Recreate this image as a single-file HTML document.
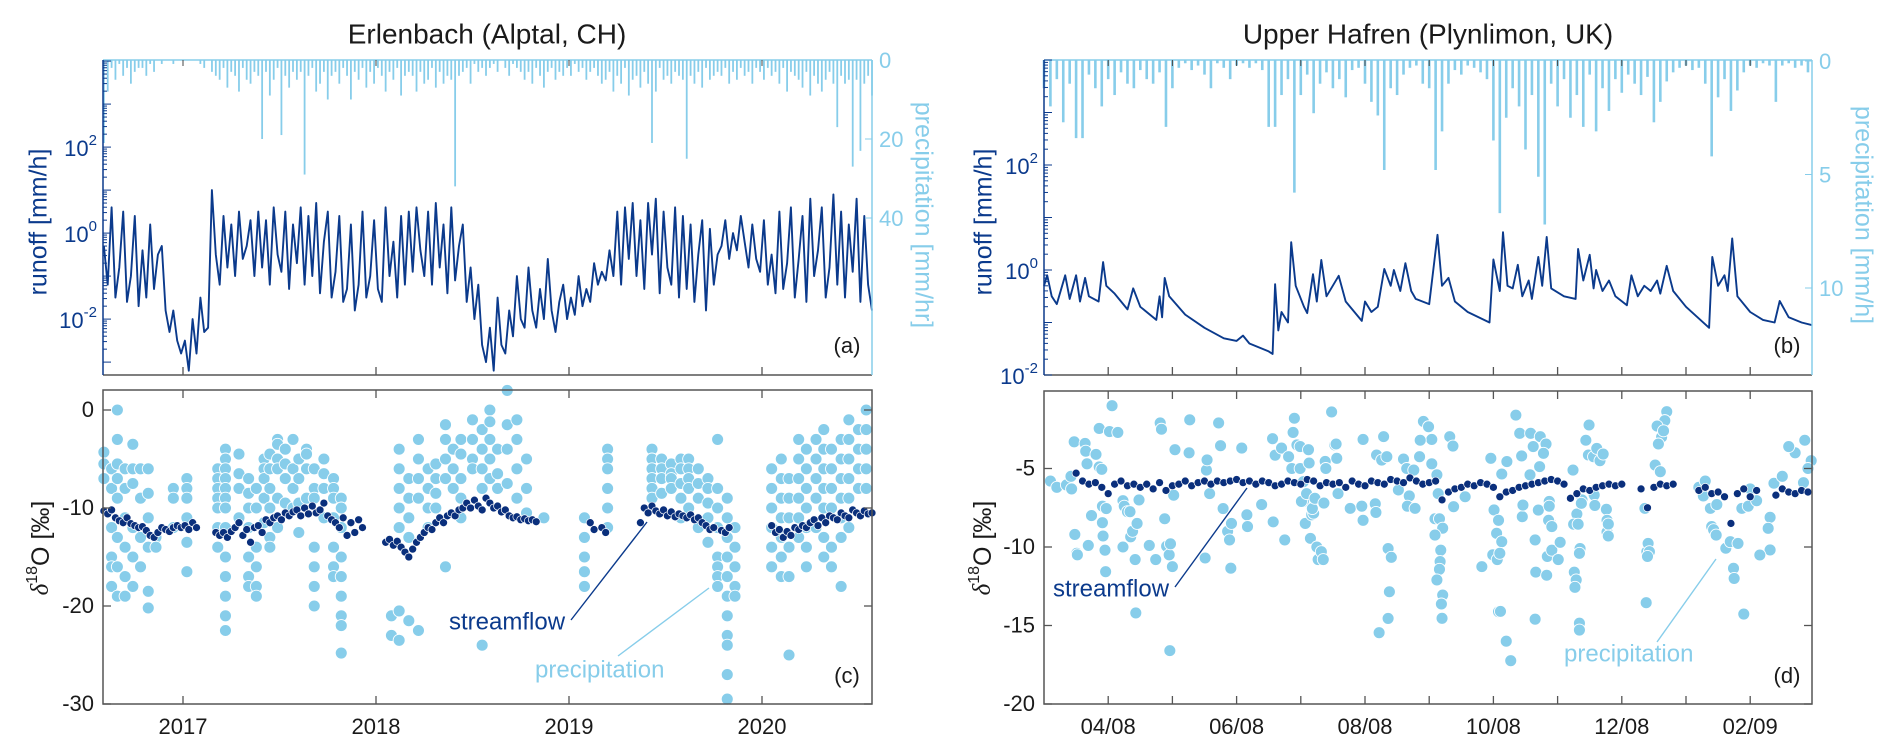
<!DOCTYPE html>
<html><head><meta charset="utf-8"><title>Erlenbach and Upper Hafren runoff and isotopes</title>
<style>html,body{margin:0;padding:0;background:#fff}svg{display:block;font-family:"Liberation Sans",Arial,sans-serif}</style>
</head><body>
<svg id="fig" width="1892" height="754" viewBox="0 0 1892 754" xmlns="http://www.w3.org/2000/svg"></svg>
<script>
// ---------------- DATA: left site (Erlenbach) ----------------
const runoffAStart = 2016.59, runoffAStep = 0.02; // years
const runoffA = [ // log10 runoff
-0.3,-1.2,0.6,-1.5,-0.8,0.5,-1.6,-1.0,0.4,-1.7,
-0.4,-1.5,0.2,-1.3,-0.5,-0.3,-1.8,-2.3,-1.8,-2.5,
-2.8,-2.5,-3.2,-2.0,-2.8,-1.5,-2.3,-2.2,1.0,-0.5,
-1.2,0.4,-0.8,0.2,-1.0,0.5,-0.6,-0.3,0.3,-1.0,
0.5,-0.8,0.3,-1.2,0.6,-0.5,-0.9,0.5,-1.3,0.2,
-0.7,0.6,-1.2,0.4,-1.0,0.7,-1.4,-0.2,0.5,-1.5,
-0.9,0.4,-1.6,-1.3,0.2,-1.8,-1.2,0.5,-1.5,-1.0,
0.3,-1.3,-1.6,0.6,-1.0,-0.2,-1.5,0.4,-1.2,0.5,
-0.9,0.6,-0.4,-1.0,0.5,-1.2,0.7,-0.8,0.2,-1.4,
0.6,-1.1,-0.3,0.2,-1.6,-0.8,-2.0,-1.2,-2.6,-3.0,
-2.2,-3.2,-1.5,-2.6,-2.8,-1.8,-2.4,-1.0,-2.0,-2.2,
-0.8,-1.8,-2.2,-1.3,-2.0,-0.6,-1.8,-2.3,-1.6,-1.2,
-2.0,-1.5,-1.9,-1.0,-1.7,-1.3,-1.6,-0.7,-1.2,-0.9,
-1.1,-0.4,-1.0,0.5,-1.2,0.6,-0.6,0.7,-1.0,0.3,
-1.3,0.7,-0.5,0.8,-1.4,0.5,-0.8,-1.2,0.6,-1.5,
0.4,-1.3,0.2,-1.6,-0.5,0.3,-1.8,0.1,-1.2,-0.5,
-0.3,0.3,-0.6,0.0,-0.4,0.4,-0.2,-0.8,0.2,-0.6,
-0.9,0.3,-1.2,-0.5,-1.4,0.5,-1.3,-0.7,0.6,-1.5,
-0.6,0.4,-1.6,0.8,-1.0,-0.4,0.6,-1.5,-0.8,0.9,
-1.2,0.5,-1.5,0.2,-0.9,0.8,-1.6,0.4,-1.2,-1.8];
const precipA = [ // mm/hr, same time grid
21,8,2,5,1,4,2,6,3,2,
2,4,1,3,0,1,0,0,1,0,
0,0,0,0,0,1,2,0,3,4,
5,2,7,3,4,8,2,5,6,3,
4,20,3,9,5,2,19,4,7,3,
5,3,29,4,2,8,6,3,10,4,
3,6,2,4,10,3,5,2,7,3,
6,2,4,8,3,5,2,9,4,3,
4,8,3,6,5,2,7,3,6,4,
5,32,4,3,2,6,1,3,2,4,
2,1,3,0,2,4,1,2,3,5,
3,6,2,4,7,3,2,5,3,4,
2,4,1,3,2,5,3,2,4,6,
5,3,8,4,6,2,9,5,4,7,
3,6,21,8,2,5,4,6,3,4,
5,25,4,6,3,7,2,5,4,3,
4,2,6,3,5,2,4,3,6,2,
3,5,2,4,3,6,2,8,3,4,
5,7,3,9,4,6,8,5,3,6,
17,4,6,5,27,5,23,6,4,9];
const streamC = [ // delta18O streamflow, same time grid
-10.3,-10.6,-10.2,-11.0,-11.3,-11.5,-11.0,-11.6,-11.8,-12.0,
-11.9,-12.3,-12.8,-13.0,-12.5,-12.0,-12.2,-12.4,-12.0,-11.8,
-12.0,-11.8,-12.2,-11.5,-12.0,null,null,null,null,-12.5,
-12.8,-12.5,-13.0,-12.4,-12.0,-11.5,-12.8,-12.2,-13.5,-12.0,
-11.8,-12.5,-11.2,-11.5,-11.0,-10.8,-11.2,-10.5,-10.8,-10.4,
-10.2,-10.8,-10.0,-10.6,-9.8,-10.5,-10.2,-9.5,-10.8,-11.2,
-11.5,-12.0,-11.0,-12.8,-11.5,-12.5,-11.2,-12.0,null,null,
null,null,null,-13.5,-13.2,-13.8,-13.4,-14.0,-14.5,-15.0,
-14.2,-13.5,-13.0,-12.5,-12.0,-12.2,-11.5,-11.0,-11.5,-10.8,
-10.5,-10.8,-10.2,-10.0,-9.5,-10.0,-9.2,-9.8,-10.2,-9.0,
-9.5,-10.0,-9.8,-10.4,-10.2,-10.8,-11.0,-10.9,-11.2,-11.1,
-11.3,-11.2,-11.4,null,null,null,null,null,null,null,
null,null,null,null,null,null,-11.5,-12.2,null,-12.0,
-12.5,null,null,null,null,null,null,null,null,-11.5,
-10.0,-10.5,-9.8,-10.3,-10.6,-10.2,-10.8,-10.4,-10.9,-10.6,
-10.8,-11.0,-10.7,-11.2,-11.0,-11.5,-11.8,-12.2,-12.0,null,
-12.3,-12.5,-12.0,null,null,null,null,null,null,null,
null,null,null,-11.8,-12.5,-12.2,-13.0,-12.4,-12.8,-12.0,
-12.2,-11.8,-12.0,-11.5,-11.2,-11.8,-11.0,-11.5,-10.8,-11.0,
-11.2,-10.5,-10.8,-11.0,-10.2,-10.5,-10.8,-10.3,-10.6,-10.5];
const precipCDates = [2016.59,2016.63,2016.66,2016.70,2016.74,2016.78,2016.82,2016.86,2016.95,2017.02,2017.18,2017.22,2017.29,2017.34,2017.38,2017.42,2017.45,2017.49,2017.53,2017.57,2017.60,2017.64,2017.68,2017.73,2017.78,2017.82,2018.08,2018.12,2018.17,2018.22,2018.27,2018.31,2018.36,2018.40,2018.44,2018.50,2018.55,2018.59,2018.63,2018.68,2018.73,2018.78,2018.87,2019.08,2019.20,2019.43,2019.48,2019.53,2019.58,2019.62,2019.67,2019.72,2019.77,2019.82,2019.86,2020.05,2020.10,2020.14,2020.19,2020.23,2020.28,2020.32,2020.36,2020.41,2020.45,2020.50,2020.54];
const precipCVals = [
[-4.3,-5.5,-7],[-6,-8,-12,-15,-16,-18],[0,-3,-5.5,-7,-9,-13,-16,-19],[-6,-8,-11,-14,-17,-19],[-3.5,-6,-7.5,-12,-15,-18],[-6,-9,-13,-16],[-6,-8.5,-11,-14,-18.5,-20.2],[-13,-14],[-8,-9,-12],[-7,-8,-9,-11,-13.5,-16.5],
[-6,-7,-8,-9,-10,-12,-14],[-4,-5,-6,-7,-8,-9,-10,-12,-15,-17,-19,-21,-22.5],[-4.5,-6.5,-8,-11],[-7,-8.5,-10,-12,-15,-17,-18],[-8,-10,-14,-16,-18,-19],[-5,-6,-7,-9,-11.5],[-4.5,-6,-8,-10,-13,-14],[-3,-3.5,-5,-6,-9,-12],[-4,-5.5,-7,-9.5],[-3,-6,-8,-10],
[-5,-7,-9.5,-12.5],[-4,-4.5,-6,-9],[-6,-8,-9,-14,-16,-18,-20],[-5,-6.5,-8,-11],[-7,-8,-9,-11,-14,-16,-17],[-9,-10,-12,-15,-17,-19,-21,-22,-24.8],[-21,-23],[-4,-6,-8,-10,-12,-20.5,-23.5],[-7,-9,-11,-13,-21.5],[-3,-5,-7,-9,-22.5],
[-6,-8,-10,-12],[-5.5,-7,-8.5,-10],[-1.5,-3,-5,-7,-16],[-4,-6,-8],[-3,-4.5,-7,-9,-11],[-1,-3,-5,-6],[-2,-4,-6,-8,-24],[0,-1.2,-3,-5,-7],[-4,-6.5,-8],[2,-1.5,-4,-7.5],
[-1,-3,-6,-9],[-5,-8,-10.5],[-11],[-11,-13,-15,-16.5,-18],[-4,-5,-6,-8,-10,-12],[-4,-5,-6,-7,-8,-9],[-5,-6,-7,-8.5],[-5.5,-6.5,-7,-8],[-5,-6,-7.5,-9,-11],[-5,-6,-7,-8,-10],
[-6,-7.5,-9,-12],[-7,-8,-9.5,-11,-13.5],[-3,-8,-10,-12,-15,-16,-17,-18],[-9,-11,-13,-15,-17,-19,-21,-23,-24,-27,-29.5],[-12,-14,-16,-18,-19],[-6,-8,-10,-12,-14,-16],[-5,-7,-9,-11,-13,-15,-17],[-7,-9,-11,-14,-17,-25],[-3,-5,-7,-9,-11,-13],[-4,-6,-8,-10,-12,-14,-16],
[-3,-5,-7,-9,-12],[-2,-4,-6,-8,-10,-13,-15],[-4,-6,-8,-10,-14,-16],[-3,-5,-7,-9,-11,-13,-18],[-1,-3,-5,-7,-9,-12],[-2,-4,-6,-8],[0,-2,-4,-6,-8]];
const yearTicks = [2017, 2018, 2019, 2020];

// ---------------- DATA: right site (Upper Hafren), months since 1 Mar 2008 ----------------
const runoffBT = [0,0.05,0.12,0.2,0.33,0.4,0.5,0.56,0.64,0.7,0.85,0.92,0.97,1.1,1.3,1.39,1.5,1.75,1.8,1.84,1.88,1.95,2.2,2.5,2.8,3.0,3.1,3.2,3.5,3.56,3.6,3.65,3.7,3.8,3.85,3.92,4.05,4.1,4.19,4.25,4.32,4.4,4.59,4.7,4.95,5.0,5.1,5.2,5.3,5.4,5.45,5.55,5.63,5.72,5.79,6.0,6.13,6.2,6.3,6.4,6.6,6.94,7.0,7.05,7.1,7.15,7.22,7.3,7.38,7.45,7.55,7.6,7.7,7.76,7.83,7.9,8.1,8.28,8.32,8.4,8.5,8.56,8.6,8.7,8.8,8.9,9.08,9.15,9.25,9.35,9.45,9.55,9.6,9.7,9.8,10.0,10.36,10.41,10.5,10.6,10.65,10.72,10.8,11.0,11.2,11.38,11.46,11.6,11.8,11.96];
const runoffBV = [-0.3,-0.1,-0.5,-0.65,-0.1,-0.55,-0.1,-0.6,-0.15,-0.5,-0.6,0.15,-0.3,-0.45,-0.75,-0.35,-0.7,-0.95,-0.5,-0.9,-0.15,-0.5,-0.85,-1.1,-1.3,-1.35,-1.25,-1.4,-1.55,-1.6,-0.27,-1.15,-0.8,-1.0,0.53,-0.3,-0.7,-0.82,-0.08,-0.6,0.19,-0.5,-0.11,-0.6,-0.97,-0.6,-0.8,-0.7,0.02,-0.3,0.0,-0.4,0.13,-0.4,-0.55,-0.65,0.67,-0.3,-0.15,-0.6,-0.8,-1.0,0.2,-0.1,-0.4,0.72,-0.3,-0.35,0.1,-0.5,-0.2,-0.55,0.25,-0.3,0.63,-0.35,-0.5,-0.55,0.4,-0.2,0.29,-0.35,0.0,-0.4,-0.2,-0.5,-0.67,-0.1,-0.5,-0.3,-0.4,-0.2,-0.45,0.08,-0.4,-0.7,-1.1,0.25,-0.3,-0.1,-0.4,0.6,-0.5,-0.8,-0.95,-1.0,-0.59,-0.9,-1.0,-1.05];
const precipBStep = 0.1;
const precipB = [
1.2,2.0,0.8,2.7,1.0,3.4,3.4,0.6,1.2,2.0,
0.8,1.5,0.5,1.0,1.2,0.4,0.8,1.0,0.5,2.9,
1.2,0.3,0.1,0.4,0.2,0.6,1.2,0.1,0.3,0.8,
0.2,0.1,0.3,0.1,0.4,2.9,2.9,1.5,0.8,5.8,
1.5,0.6,2.3,1.0,0.5,1.2,0.8,1.6,0.4,0.3,
1.0,1.8,2.4,4.8,1.2,1.5,0.6,0.3,0.2,1.0,
1.2,4.8,3.1,1.0,0.4,0.6,0.2,0.3,0.5,0.8,
3.5,6.7,2.5,1.2,2.0,3.9,1.5,5.1,7.2,1.0,
2.0,0.8,2.5,1.5,2.9,0.6,3.1,1.2,2.2,0.8,
1.4,0.6,1.0,1.5,0.7,2.7,1.8,0.9,0.5,0.3,
0.2,0.4,0.3,1.0,4.2,1.6,0.8,2.2,1.3,0.5,
0.2,0.3,0.1,0.2,1.8,0.2,0.1,0.3,0.2,0.5];
const streamDStart = 0.5, streamDStep = 0.1;
const streamD = [
-5.3,-5.8,-6.0,-5.9,-6.2,-6.6,-6.0,-5.8,-6.1,-6.0,
-6.2,-6.0,-6.3,-5.9,-6.4,-6.1,-6.0,-5.8,-6.1,-5.9,
-5.8,-6.0,-5.8,-5.9,-5.8,-5.7,-5.9,-5.8,-6.0,-5.8,
-5.9,-6.1,-6.0,-5.8,-5.9,-6.0,-5.7,-5.8,-6.1,-5.9,
-6.0,-5.9,-6.2,-5.8,-6.0,-6.1,-5.8,-5.9,-6.0,-5.7,
-5.8,-5.9,-5.6,-5.8,-6.0,-5.9,-5.8,-7.0,-6.5,-6.3,
-6.2,-6.0,-6.1,-5.9,-6.0,-6.2,-6.8,-6.5,-6.4,-6.2,
-6.1,-6.0,-5.9,-5.8,-5.7,-5.8,-6.0,-6.9,-6.6,-6.3,
-6.4,-6.2,-6.1,-6.0,-6.1,-6.0,null,null,-6.3,-7.5,
-6.2,-6.0,-6.1,-6.0,null,null,null,-6.4,-6.2,-6.6,
-6.5,-6.8,-8.5,-6.6,-6.3,-6.8,-6.4,null,null,-6.7,
-6.3,-6.5,-6.6,-6.4,-6.5];
const precipD = [[0.1,-5.8],[0.2,-6.2],[0.35,-6.05],[0.42,-5.5],[0.43,-6.3],[0.47,-3.3],[0.48,-9.2],[0.51,-10.4],[0.52,-10.5],[0.64,-3.4],[0.65,-3.9],[0.67,-4.7],[0.69,-9.9],[0.74,-8.0],[0.81,-4.1],[0.86,-4.9],[0.9,-5.05],[0.91,-7.4],[0.91,-8.45],[0.92,-9.3],[0.95,-10.2],[0.96,-11.57],[0.97,-7.55],[0.86,-2.45],[1.02,-2.65],[1.06,-1.0],[1.15,-2.7],[1.23,-10.0],[1.23,-7.05],[1.25,-7.4],[1.3,-7.75],[1.34,-7.75],[1.35,-9.35],[1.38,-9.0],[1.42,-10.8],[1.43,-14.2],[1.45,-8.5],[1.48,-7.0],[1.64,-9.9],[1.74,-10.8],[1.81,-2.1],[1.83,-2.5],[1.88,-8.2],[1.91,-9.95],[1.95,-10.5],[1.96,-16.6],[1.97,-9.8],[2.0,-11.25],[2.02,-6.7],[2.04,-3.8],[2.26,-4.0],[2.27,-1.9],[2.53,-5.1],[2.54,-4.45],[2.51,-10.7],[2.58,-6.6],[2.72,-2.1],[2.75,-3.55],[2.79,-7.55],[2.86,-9.0],[2.89,-9.55],[2.91,-11.35],[2.92,-8.5],[3.08,-3.7],[3.16,-7.95],[3.17,-8.7],[3.39,-7.3],[3.56,-3.1],[3.57,-8.4],[3.6,-4.15],[3.7,-3.7],[3.75,-9.55],[3.81,-4.25],[3.86,-5.0],[3.88,-2.7],[3.9,-1.8],[3.94,-3.5],[3.99,-3.6],[3.99,-5.0],[4.04,-5.84],[4.04,-7.1],[4.01,-7.1],[4.07,-8.5],[4.09,-6.6],[4.12,-3.8],[4.13,-4.65],[4.15,-9.45],[4.17,-7.95],[4.2,-7.85],[4.25,-10.0],[4.18,-7.55],[4.22,-6.9],[4.27,-10.8],[4.32,-10.3],[4.35,-10.8],[4.36,-7.2],[4.38,-4.55],[4.39,-5.0],[4.48,-1.4],[4.53,-3.5],[4.56,-4.35],[4.55,-3.44],[4.58,-6.6],[4.77,-7.54],[4.95,-7.4],[4.97,-8.3],[4.97,-3.15],[5.16,-7.25],[5.17,-7.8],[5.29,-2.97],[5.18,-4.14],[5.26,-4.46],[5.34,-4.25],[5.36,-10.1],[5.41,-10.66],[5.38,-12.85],[5.36,-14.55],[5.22,-15.46],[5.52,-6.37],[5.6,-4.4],[5.65,-5.0],[5.69,-6.75],[5.66,-7.4],[5.78,-7.54],[5.76,-5.1],[5.91,-2.0],[5.99,-2.34],[6.04,-3.15],[5.86,-3.2],[5.85,-4.25],[6.04,-4.7],[6.32,-2.97],[6.37,-3.57],[6.12,-5.4],[6.14,-6.6],[6.09,-8.2],[6.16,-8.2],[6.21,-8.8],[6.09,-9.24],[6.18,-10.2],[6.17,-10.93],[6.16,-11.42],[6.12,-12.1],[6.21,-13.06],[6.19,-13.63],[6.2,-14.54],[6.38,-7.43],[6.56,-6.8],[6.82,-11.25],[6.96,-4.35],[7.21,-4.56],[7.13,-5.35],[7.08,-14.12],[6.99,-10.5],[7.06,-10.8],[7.01,-7.64],[7.08,-8.3],[7.05,-9.13],[7.13,-9.66],[7.1,-10.4],[7.11,-14.1],[7.2,-16.0],[7.27,-17.24],[7.35,-1.6],[7.41,-2.76],[7.58,-2.76],[7.73,-2.97],[7.82,-3.44],[7.62,-3.6],[7.78,-4.03],[7.44,-4.2],[7.72,-4.88],[7.57,-5.4],[7.45,-8.07],[7.46,-7.33],[7.65,-9.55],[7.66,-11.6],[7.65,-14.6],[7.7,-7.65],[7.83,-11.8],[7.84,-10.6],[7.91,-10.2],[8.01,-10.8],[8.04,-9.7],[7.87,-7.1],[7.88,-8.4],[7.86,-8.3],[7.91,-8.7],[7.87,-7.4],[8.24,-5.1],[8.3,-7.9],[8.25,-8.55],[8.32,-8.55],[8.35,-10.1],[8.26,-11.6],[8.29,-12.1],[8.34,-14.85],[8.38,-7.0],[8.37,-7.22],[8.34,-10.4],[8.27,-12.57],[8.34,-15.29],[8.49,-2.23],[8.44,-3.2],[8.48,-4.14],[8.56,-4.25],[8.61,-3.72],[8.66,-4.5],[8.71,-4.08],[8.57,-6.69],[8.58,-7.35],[8.76,-7.6],[8.77,-8.3],[8.77,-9.05],[8.79,-8.54],[8.79,-9.3],[9.36,-7.54],[9.39,-10.3],[9.41,-9.77],[9.38,-13.55],[9.43,-10.3],[9.4,-10.6],[9.52,-4.78],[9.6,-5.2],[9.7,-1.38],[9.67,-1.95],[9.62,-3.0],[9.57,-3.44],[9.55,-2.3],[9.65,-2.6],[10.27,-6.75],[10.38,-7.54],[10.48,-7.3],[10.4,-8.7],[10.43,-8.9],[10.47,-9.24],[10.62,-10.08],[10.69,-9.66],[10.81,-9.77],[10.74,-11.36],[10.75,-12.0],[10.9,-14.27],[10.87,-7.54],[10.97,-7.4],[11.1,-7.05],[11.31,-8.11],[11.28,-8.81],[11.31,-10.19],[11.15,-10.51],[11.37,-5.94],[11.83,-5.9],[10.2,-6.2],[10.3,-5.8],[11.0,-6.3],[11.5,-5.5],[11.7,-4.0],[11.85,-3.2],[11.95,-4.5],[11.9,-5.0],[11.6,-3.6]];
const monthTicks = [1,2,3,4,5,6,7,8,9,10,11];
const monthLabels = ["04/08","","06/08","","08/08","","10/08","","12/08","","02/09"];

// ---------------- axis functions ----------------
const xL = t => 183 + (t - 2017) * 193;
const yA = lv => 375 - (lv + 3.3) * 43;
const pA = p => Math.min(375, 60 + p * 3.95);
const yC = v => 410 - v * 9.8;
const xR = m => 1044 + m * 64.2;
const yB = lv => 375 - (lv + 2) * 52.5;
const pB = p => Math.min(375, 61 + p * 22.7);
const yD = v => 704 - (v + 20) * 15.7;

const DARK = "#0b3a8c", LIGHT = "#87cdea", AX = "#555", TXT = "#1a1a1a";
const svg = document.getElementById('fig');
const NS = "http://www.w3.org/2000/svg";
function mk(tag, attrs, parent) {
  const el = document.createElementNS(NS, tag);
  for (const k in attrs) el.setAttribute(k, attrs[k]);
  (parent || svg).appendChild(el);
  return el;
}
function group(name) {
  const g = mk('g', {});
  
  
  return g;
}
function txt(s, x, y, size, color, anchor, parent, rot) {
  const t = mk('text', {x: x, y: y, 'font-size': size, fill: color, 'text-anchor': anchor || 'middle', 'dominant-baseline': 'middle'}, parent);
  if (rot) t.setAttribute('transform', 'rotate(' + rot + ' ' + x + ' ' + y + ')');
  t.textContent = s;
  return t;
}
function sup(base, exp, x, y, color, parent) {
  const t = mk('text', {x: x, y: y, 'font-size': 22, fill: color, 'text-anchor': 'end', 'dominant-baseline': 'middle'}, parent);
  const a = mk('tspan', {}, t); a.textContent = base;
  const b = mk('tspan', {dy: -9, 'font-size': 15}, t); b.textContent = exp;
  return t;
}
function line(x1, y1, x2, y2, color, w, parent) {
  return mk('line', {x1: x1, y1: y1, x2: x2, y2: y2, stroke: color, 'stroke-width': w || 1}, parent);
}

// ---------------- titles ----------------
const t1 = txt("Erlenbach (Alptal, CH)", 487, 36, 28, TXT);


const t2 = txt("Upper Hafren (Plynlimon, UK)", 1428, 36, 28, TXT);



// ---------------- hydrograph panel builder ----------------
function hydroPanel(cfg) {
  const g = group(cfg.name);
  const gp = group(cfg.name + '-precipitation');
  g.appendChild(gp);
  cfg.precip.forEach((p, i) => {
    if (p <= 0) return;
    const x = cfg.xf(cfg.pt(i));
    const b = line(x, cfg.top, x, cfg.pf(p), LIGHT, cfg.barW, gp);
    
    
  });
  const pts = cfg.runoffT.map((t, i) => cfg.xf(t).toFixed(1) + ',' + cfg.yf(cfg.runoffV[i]).toFixed(1)).join(' ');
  const pl = mk('polyline', {points: pts, fill: 'none', stroke: DARK, 'stroke-width': 1.9, 'stroke-linejoin': 'round'}, g);
  
  
  const L = cfg.left, R = cfg.right, T = cfg.top, B = cfg.bottom;
  line(L, B, R, B, AX, 1.5, g);
  line(L, T, R, T, LIGHT, 1.5, g);
  line(L, T, L, B, DARK, 1.5, g);
  line(R, T, R, B, LIGHT, 1.5, g);
  cfg.xticks.forEach(t => { const x = cfg.xf(t); line(x, B, x, B - 8, AX, 1.3, g); line(x, T, x, T + 6, '#444', 1, g); });
  for (let d = cfg.logMin; d <= cfg.logMax; d++) {
    for (let k = 1; k <= 9; k++) {
      const lv = d + Math.log10(k);
      if (lv < cfg.logMin - 0.001 || lv > cfg.logMax + 0.001) continue;
      const y = cfg.yf(lv);
      line(L, y, L + (k === 1 ? 8 : 4), y, DARK, 1, g);
    }
  }
  cfg.majors.forEach(e => {
    const s = sup('10', String(e), L - 6, cfg.yf(e) + 3, DARK, g);
    
    
  });
  cfg.pticks.forEach(p => {
    const y = cfg.pf(p);
    line(R, y, R - 7, y, LIGHT, 1, g);
    const tl = txt(String(p), R + 7, y + 2, 22, LIGHT, 'start', g);
    
    
  });
  const yl = txt('runoff [mm/h]', cfg.ylabX, 222, 25, DARK, 'middle', g, -90);
  
  
  const pl2 = txt(cfg.pLabel, cfg.plabX, 215, 25, LIGHT, 'middle', g, 90);
  
  
  const lt = txt(cfg.letter, R - 25, 347, 22, TXT, 'middle', g);
  
  
}

// ---------------- isotope panel builder ----------------
function isoPanel(cfg) {
  const g = group(cfg.name);
  const L = cfg.left, R = cfg.right, T = cfg.top, B = cfg.bottom;
  const gp = group(cfg.name + '-precipitation');
  g.appendChild(gp);
  cfg.precipPts.forEach(p => {
    const c = mk('circle', {cx: cfg.xf(p[0]), cy: cfg.yf(p[1]), r: 6, fill: LIGHT, stroke: '#fff', 'stroke-width': 0.9}, gp);
    
    
  });
  const gs = group(cfg.name + '-streamflow');
  g.appendChild(gs);
  cfg.stream.forEach((v, i) => {
    if (v === null) return;
    const c = mk('circle', {cx: cfg.xf(cfg.st(i)), cy: cfg.yf(v), r: 4, fill: '#0a2f7c', stroke: '#fff', 'stroke-width': 0.7}, gs);
    
    
  });
  mk('rect', {x: L, y: T, width: R - L, height: B - T, fill: 'none', stroke: AX, 'stroke-width': 1.5}, g);
  cfg.xticks.forEach((t, i) => {
    const x = cfg.xf(t);
    line(x, B, x, B - 8, AX, 1.3, g); line(x, T, x, T + 8, AX, 1.3, g);
    const s = cfg.xlabels[i];
    if (s) {
      const tl = txt(s, x, 728, 22, TXT, 'middle', g);
      
      
    }
  });
  cfg.yticks.forEach(v => {
    const y = cfg.yf(v);
    line(L, y, L + 8, y, AX, 1.3, g); line(R, y, R - 8, y, AX, 1.3, g);
    const tl = txt(String(v), L - 9, y + 1, 22, TXT, 'end', g);
    
    
  });
  const yl = mk('text', {x: cfg.ylabX, y: 548, 'font-size': 25, fill: TXT, 'text-anchor': 'middle', 'dominant-baseline': 'middle', transform: 'rotate(-90 ' + cfg.ylabX + ' 548)'}, g);
  const a = mk('tspan', {'font-style': 'italic', 'font-family': '"Liberation Serif",serif'}, yl); a.textContent = 'δ';
  const b = mk('tspan', {dy: -9, 'font-size': 16}, yl); b.textContent = '18';
  const c = mk('tspan', {dy: 9}, yl); c.textContent = 'O [‰]';
  
  
  const sl = line(cfg.sLine[0], cfg.sLine[1], cfg.sLine[2], cfg.sLine[3], DARK, 1.4, g);
  
  
  const st = txt('streamflow', cfg.sText[0], cfg.sText[1], 24, DARK, 'start', g);
  
  
  const ql = line(cfg.pLine[0], cfg.pLine[1], cfg.pLine[2], cfg.pLine[3], LIGHT, 1.4, g);
  
  
  const pt = txt('precipitation', cfg.pText[0], cfg.pText[1], 24, LIGHT, 'start', g);
  
  
  const lt = txt(cfg.letter, R - 25, 677, 22, TXT, 'middle', g);
  
  
}

// ---------------- build ----------------
hydroPanel({name: 'panel-a-erlenbach-hydrograph', left: 103, right: 872, top: 60, bottom: 375,
  xf: xL, yf: yA, pf: pA, pt: i => runoffAStart + i * runoffAStep, barW: 1.8,
  runoffT: runoffA.map((v, i) => runoffAStart + i * runoffAStep), runoffV: runoffA, precip: precipA,
  xticks: yearTicks, logMin: -3, logMax: 4, majors: [2, 0, -2], pticks: [0, 20, 40],
  ylabX: 40, plabX: 922, pLabel: 'precipitation [mm/hr]', letter: '(a)'});
hydroPanel({name: 'panel-b-hafren-hydrograph', left: 1044, right: 1812, top: 60, bottom: 375,
  xf: xR, yf: yB, pf: pB, pt: i => i * precipBStep, barW: 2.6,
  runoffT: runoffBT, runoffV: runoffBV, precip: precipB,
  xticks: monthTicks, logMin: -2, logMax: 4, majors: [2, 0, -2], pticks: [0, 5, 10],
  ylabX: 985, plabX: 1862, pLabel: 'precipitation [mm/h]', letter: '(b)'});

const precipCPts = [];
precipCDates.forEach((d, i) => precipCVals[i].forEach(v => precipCPts.push([d, v])));
isoPanel({name: 'panel-c-erlenbach-isotopes', left: 103, right: 872, top: 390, bottom: 704,
  xf: xL, yf: yC, precipPts: precipCPts, stream: streamC, st: i => runoffAStart + i * runoffAStep,
  xticks: yearTicks, xlabels: yearTicks.map(String), yticks: [0, -10, -20, -30],
  ylabX: 42, sLine: [571, 620, 647, 522], sText: [449, 623], pLine: [618, 656, 709, 588], pText: [535, 671], letter: '(c)'});
isoPanel({name: 'panel-d-hafren-isotopes', left: 1044, right: 1812, top: 391, bottom: 704,
  xf: xR, yf: yD, precipPts: precipD, stream: streamD, st: i => streamDStart + i * streamDStep,
  xticks: monthTicks, xlabels: monthLabels, yticks: [-5, -10, -15, -20],
  ylabX: 984, sLine: [1175, 587, 1247, 488], sText: [1053, 590], pLine: [1657, 642, 1716, 559], pText: [1564, 655], letter: '(d)'});
</script>
</body></html>
